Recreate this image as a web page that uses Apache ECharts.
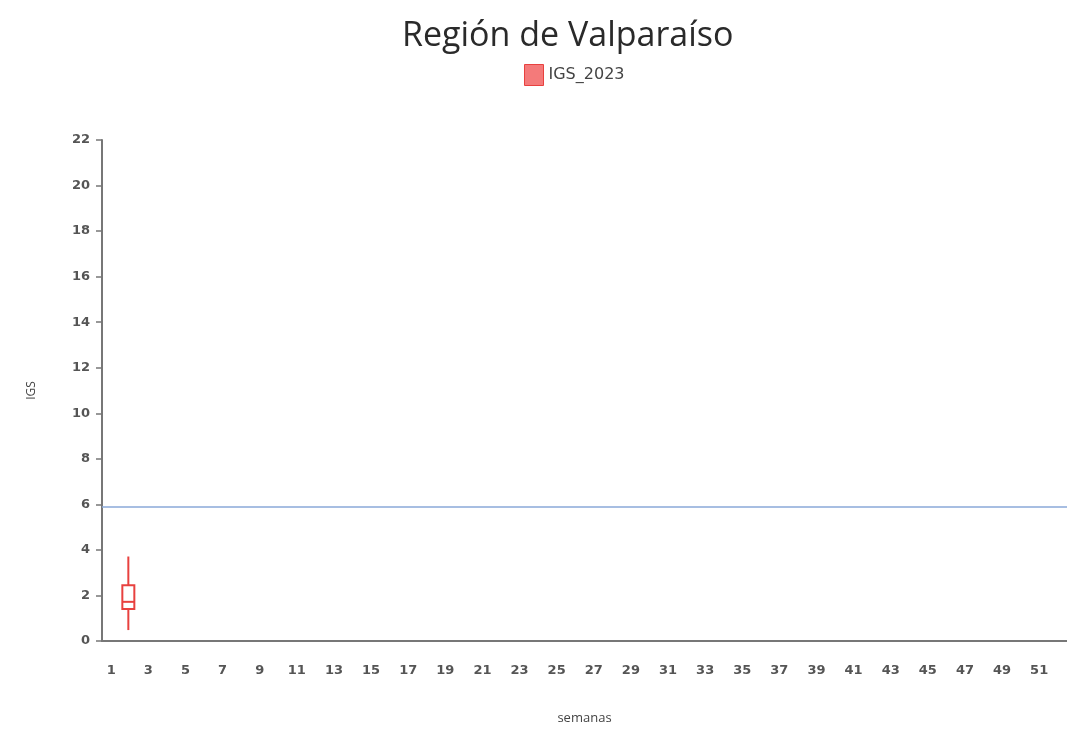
<!DOCTYPE html>
<html>
<head>
<meta charset="utf-8">
<script src="https://cdn.jsdelivr.net/npm/echarts@6/dist/echarts.min.js"></script>
<style>html,body{margin:0;padding:0;background:#fff}#c{width:1067px;height:731px}</style>
</head>
<body>
<div id="c"></div>
<script>
var weeks = [];
for (var w = 1; w <= 52; w++) weeks.push(String(w));
// [week, min, Q1, median, Q3, max]
var boxData = [['2', 0.48, 1.4, 1.72, 2.45, 3.71]];
var thresholdValue = 5.9;
var yTicks = [0, 22, 2];

var RED = '#e8413f';
var chart = echarts.init(document.getElementById('c'));
chart.setOption({
  backgroundColor: '#fff',
  animation: false,
  title: {
    text: 'Región de Valparaíso',
    left: 397, top: 14,
    textStyle: {fontFamily: 'Open Sans', fontSize: 34, fontWeight: 'normal', color: '#2a2a2a'}
  },
  legend: {
    top: 59, left: 519,
    itemWidth: 19, itemHeight: 21, itemGap: 4,
    icon: 'rect',
    textStyle: {fontFamily: 'DejaVu Sans', fontSize: 16, color: '#444'},
    data: [{name: 'IGS_2023', itemStyle: {color: '#f47a7a', borderColor: RED, borderWidth: 1}}]
  },
  grid: {left: 102, right: 0, top: 140, bottom: 90},
  xAxis: {
    type: 'category',
    data: weeks,
    boundaryGap: true,
    name: 'semanas', nameLocation: 'middle', nameGap: 71,
    nameTextStyle: {fontFamily: 'Open Sans', fontSize: 13, color: '#444'},
    axisLine: {lineStyle: {color: '#777', width: 2}},
    axisTick: {show: false},
    axisLabel: {interval: 1, margin: 23, fontFamily: 'DejaVu Sans', fontWeight: 'bold', fontSize: 13, color: '#555'},
    splitLine: {show: false}
  },
  yAxis: {
    type: 'value',
    min: yTicks[0], max: yTicks[1], interval: yTicks[2],
    name: 'IGS', nameLocation: 'middle', nameGap: 64, nameRotate: 90,
    nameTextStyle: {fontFamily: 'Open Sans', fontSize: 12, color: '#444'},
    axisLine: {show: true, lineStyle: {color: '#777', width: 2}},
    axisTick: {show: true, length: 6, lineStyle: {color: '#777', width: 1.5}},
    axisLabel: {margin: 12, fontFamily: 'DejaVu Sans', fontWeight: 'bold', fontSize: 13, color: '#555'},
    splitLine: {show: false}
  },
  series: [{
    name: 'IGS_2023',
    type: 'custom',
    data: boxData,
    encode: {x: 0, y: [1, 2, 3, 4, 5]},
    itemStyle: {color: '#f47a7a'},
    renderItem: function (params, api) {
      var x = api.value(0);
      var pMin = api.coord([x, api.value(1)]);
      var pQ1 = api.coord([x, api.value(2)]);
      var pMed = api.coord([x, api.value(3)]);
      var pQ3 = api.coord([x, api.value(4)]);
      var pMax = api.coord([x, api.value(5)]);
      var half = 6;
      var cx = pMin[0] - 1.5;
      var st = {stroke: RED, lineWidth: 2, fill: null};
      return {
        type: 'group',
        children: [
          {type: 'line', shape: {x1: cx, y1: pMin[1], x2: cx, y2: pQ1[1]}, style: st},
          {type: 'line', shape: {x1: cx, y1: pQ3[1], x2: cx, y2: pMax[1]}, style: st},
          {type: 'rect', shape: {x: cx - half, y: pQ3[1], width: half * 2, height: pQ1[1] - pQ3[1]},
            style: {fill: '#fff', stroke: RED, lineWidth: 2}},
          {type: 'line', shape: {x1: cx - half, y1: pMed[1], x2: cx + half, y2: pMed[1]}, style: st}
        ]
      };
    },
    markLine: {
      silent: true,
      symbol: ['none', 'none'],
      label: {show: false},
      lineStyle: {color: '#8aa9d9', width: 1.5, type: 'solid'},
      data: [{yAxis: thresholdValue}]
    }
  }]
});
</script>
</body>
</html>
